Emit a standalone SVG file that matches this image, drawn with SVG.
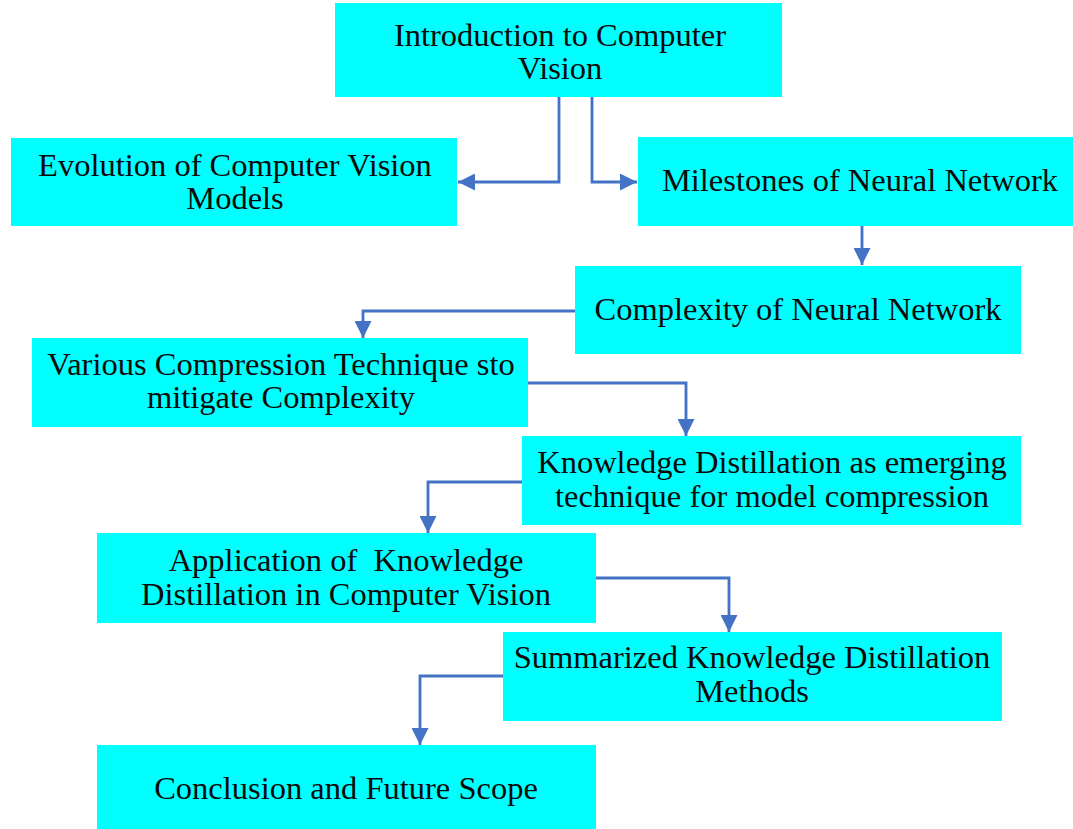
<svg xmlns="http://www.w3.org/2000/svg" width="1073" height="829" viewBox="0 0 1073 829">
<style>
.box{fill:#00FFFF;}
.t{font-family:"Liberation Serif","Times New Roman",serif;font-size:32.5px;fill:#0a0a0a;text-anchor:middle;}
.c{fill:none;stroke:#4472C4;stroke-width:2.8;}
</style>
<defs>
<marker id="ah" viewBox="0 0 10 10" refX="10" refY="5" markerUnits="userSpaceOnUse" markerWidth="19" markerHeight="17" orient="auto">
<path d="M0,0 L10,5 L0,10 z" fill="#4472C4"/>
</marker>
</defs>
<rect width="1073" height="829" fill="#fff"/>
<g id="n1"><rect class="box" x="335" y="3" width="447" height="94"/><text class="t" x="560" y="46">Introduction to Computer</text><text class="t" x="560" y="79">Vision</text></g>
<g id="n2"><rect class="box" x="11" y="138" width="446" height="88"/><text class="t" x="235" y="176">Evolution of Computer Vision</text><text class="t" x="235" y="209">Models</text></g>
<g id="n3"><rect class="box" x="638" y="137" width="435" height="89"/><text class="t" x="860" y="191">Milestones of Neural Network</text></g>
<g id="n4"><rect class="box" x="575" y="266" width="446" height="88"/><text class="t" x="798" y="320">Complexity of Neural Network</text></g>
<g id="n5"><rect class="box" x="32" y="338" width="496" height="89"/><text class="t" x="281" y="375">Various Compression Technique sto</text><text class="t" x="281" y="408">mitigate Complexity</text></g>
<g id="n6"><rect class="box" x="522" y="436" width="499" height="89"/><text class="t" x="772" y="473">Knowledge Distillation as emerging</text><text class="t" x="772" y="507">technique for model compression</text></g>
<g id="n7"><rect class="box" x="97" y="533" width="499" height="90"/><text class="t" x="346" y="571" xml:space="preserve">Application of  Knowledge</text><text class="t" x="346" y="605">Distillation in Computer Vision</text></g>
<g id="n8"><rect class="box" x="503" y="632" width="499" height="89"/><text class="t" x="752" y="668">Summarized Knowledge Distillation</text><text class="t" x="752" y="702">Methods</text></g>
<g id="n9"><rect class="box" x="97" y="745" width="499" height="84"/><text class="t" x="346" y="799">Conclusion and Future Scope</text></g>
<g id="connectors">
<path class="c" d="M559,97 V182 H458" marker-end="url(#ah)"/>
<path class="c" d="M592,97 V182 H637" marker-end="url(#ah)"/>
<path class="c" d="M862,226 V265" marker-end="url(#ah)"/>
<path class="c" d="M575,311 H363 V338" marker-end="url(#ah)"/>
<path class="c" d="M528,383 H686 V436" marker-end="url(#ah)"/>
<path class="c" d="M522,482 H428 V533" marker-end="url(#ah)"/>
<path class="c" d="M596,578 H729 V632" marker-end="url(#ah)"/>
<path class="c" d="M503,676 H420 V745" marker-end="url(#ah)"/>
</g>
</svg>
